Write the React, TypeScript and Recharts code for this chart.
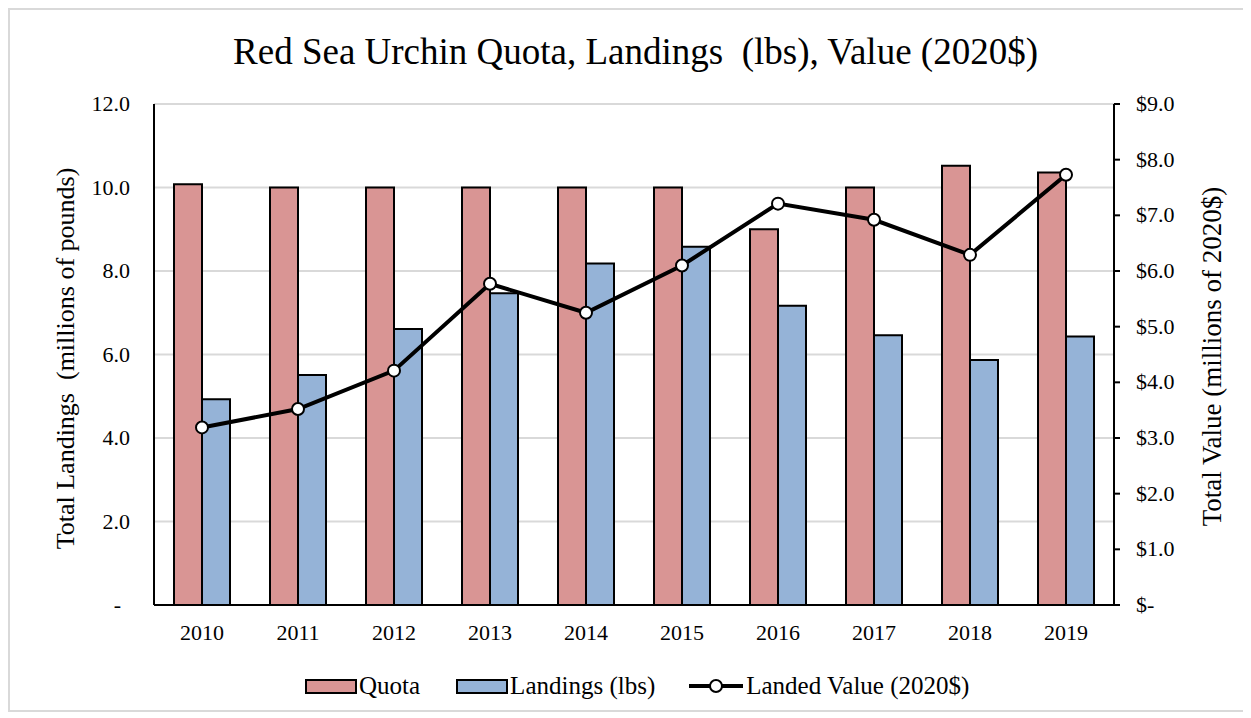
import React from 'react';
import { ComposedChart, Bar, Line, XAxis, YAxis, CartesianGrid } from 'recharts';

const years = ['2010', '2011', '2012', '2013', '2014', '2015', '2016', '2017', '2018', '2019'];
const quota = [10.08, 10.0, 10.0, 10.0, 10.0, 10.0, 9.0, 10.0, 10.52, 10.36];
const landings = [4.93, 5.51, 6.61, 7.47, 8.18, 8.58, 7.17, 6.46, 5.87, 6.43];
const landedValue = [3.19, 3.52, 4.21, 5.77, 5.25, 6.1, 7.21, 6.92, 6.29, 7.73];
const leftTicks = [0, 2, 4, 6, 8, 10, 12];
const rightTicks = [0, 1, 2, 3, 4, 5, 6, 7, 8, 9];

const data = years.map((y, i) => ({
  year: y,
  quota: quota[i],
  landings: landings[i],
  value: landedValue[i],
}));

const FONT = '"Liberation Serif", "Times New Roman", serif';
const QUOTA_COLOR = '#d99594';
const LAND_COLOR = '#95b3d7';

const LeftTick = (props: any) => {
  const { x, y, payload } = props;
  const v = payload.value;
  const label = v === 0 ? '-' : v.toFixed(1);
  return (
    <text x={v === 0 ? x - 9 : x} y={y} dy={7} textAnchor="end" fontFamily={FONT} fontSize={22} fill="#000">
      {label}
    </text>
  );
};

const RightTick = (props: any) => {
  const { x, y, payload } = props;
  const v = payload.value;
  const label = v === 0 ? '$-' : '$' + v.toFixed(1);
  return (
    <text x={x} y={y} dy={7} textAnchor="start" fontFamily={FONT} fontSize={22} fill="#000">
      {label}
    </text>
  );
};

const LeftLabel = (props: any) => {
  const vb = props.viewBox || {};
  const cx = vb.x - 9;
  const cy = vb.y + vb.height / 2 + 4;
  return (
    <text
      x={cx}
      y={cy}
      transform={`rotate(-90, ${cx}, ${cy})`}
      textAnchor="middle"
      dominantBaseline="central"
      fontFamily={FONT}
      fontSize={26}
      fill="#000"
      style={{ whiteSpace: 'pre' }}
    >
      {'Total Landings  (millions of pounds)'}
    </text>
  );
};

const RightLabel = (props: any) => {
  const vb = props.viewBox || {};
  const cx = vb.x + 98;
  const cy = vb.y + vb.height / 2 + 2;
  return (
    <text
      x={cx}
      y={cy}
      transform={`rotate(-90, ${cx}, ${cy})`}
      textAnchor="middle"
      dominantBaseline="central"
      fontFamily={FONT}
      fontSize={27}
      fill="#000"
    >
      Total Value (millions of 2020$)
    </text>
  );
};

const Swatch = ({ color }: { color: string }) => (
  <span
    style={{
      display: 'inline-block',
      width: 52,
      height: 15,
      background: color,
      border: '2px solid #000',
      boxSizing: 'border-box',
      marginRight: 2,
    }}
  />
);

export default function App() {
  return (
    <div
      style={{
        position: 'relative',
        width: 1237,
        height: 704,
        border: '2px solid #d9d9d9',
        boxSizing: 'border-box',
        background: '#fff',
        fontFamily: FONT,
      }}
    >
      <div
        style={{
          position: 'absolute',
          top: 22,
          left: 0,
          width: 1233,
          textAlign: 'center',
          fontSize: 37,
          lineHeight: '40px',
          whiteSpace: 'pre',
          paddingLeft: 18,
          boxSizing: 'border-box',
        }}
      >
        {'Red Sea Urchin Quota, Landings  (lbs), Value (2020$)'}
      </div>
      <ComposedChart
        width={1233}
        height={700}
        data={data}
        margin={{ top: 94, right: 49, bottom: 65, left: 64 }}
        barCategoryGap={20}
        barGap={0}
      >
        <CartesianGrid yAxisId="left" vertical={false} stroke="#d9d9d9" strokeWidth={2} />
        <XAxis
          dataKey="year"
          height={40}
          axisLine={{ stroke: '#000', strokeWidth: 2 }}
          tickLine={false}
          tickSize={0}
          tickMargin={19}
          tick={{ fontFamily: FONT, fontSize: 22, fill: '#000' }}
        />
        <YAxis
          yAxisId="left"
          orientation="left"
          width={80}
          domain={[0, 12]}
          ticks={leftTicks}
          axisLine={{ stroke: '#000', strokeWidth: 2 }}
          tickLine={false}
          tickSize={0}
          tickMargin={24}
          tick={<LeftTick />}
          label={{ content: <LeftLabel /> }}
          interval={0}
        />
        <YAxis
          yAxisId="right"
          orientation="right"
          width={80}
          domain={[0, 9]}
          ticks={rightTicks}
          axisLine={{ stroke: '#000', strokeWidth: 2 }}
          tickLine={{ stroke: '#000', strokeWidth: 2 }}
          tickSize={6}
          tickMargin={16}
          tick={<RightTick />}
          label={{ content: <RightLabel /> }}
          interval={0}
        />
        <Bar
          yAxisId="left"
          dataKey="quota"
          name="Quota"
          fill={QUOTA_COLOR}
          stroke="#000"
          strokeWidth={2}
          barSize={28}
          isAnimationActive={false}
        />
        <Bar
          yAxisId="left"
          dataKey="landings"
          name="Landings (lbs)"
          fill={LAND_COLOR}
          stroke="#000"
          strokeWidth={2}
          barSize={28}
          isAnimationActive={false}
        />
        <Line
          yAxisId="right"
          dataKey="value"
          name="Landed Value (2020$)"
          stroke="#000"
          strokeWidth={4}
          dot={{ r: 6, fill: '#fff', stroke: '#000', strokeWidth: 2 }}
          activeDot={false}
          isAnimationActive={false}
        />
      </ComposedChart>
      <div
        style={{
          position: 'absolute',
          top: 661,
          left: 295,
          display: 'flex',
          alignItems: 'center',
          fontSize: 25,
          lineHeight: '30px',
          whiteSpace: 'nowrap',
        }}
      >
        <Swatch color={QUOTA_COLOR} />
        <span style={{ marginRight: 36 }}>Quota</span>
        <Swatch color={LAND_COLOR} />
        <span style={{ marginRight: 33 }}>Landings (lbs)</span>
        <svg width={56} height={20} style={{ marginRight: 2 }}>
          <line x1={1} y1={10} x2={55} y2={10} stroke="#000" strokeWidth={4} />
          <circle cx={28} cy={10} r={6} fill="#fff" stroke="#000" strokeWidth={2} />
        </svg>
        <span>Landed Value (2020$)</span>
      </div>
    </div>
  );
}
